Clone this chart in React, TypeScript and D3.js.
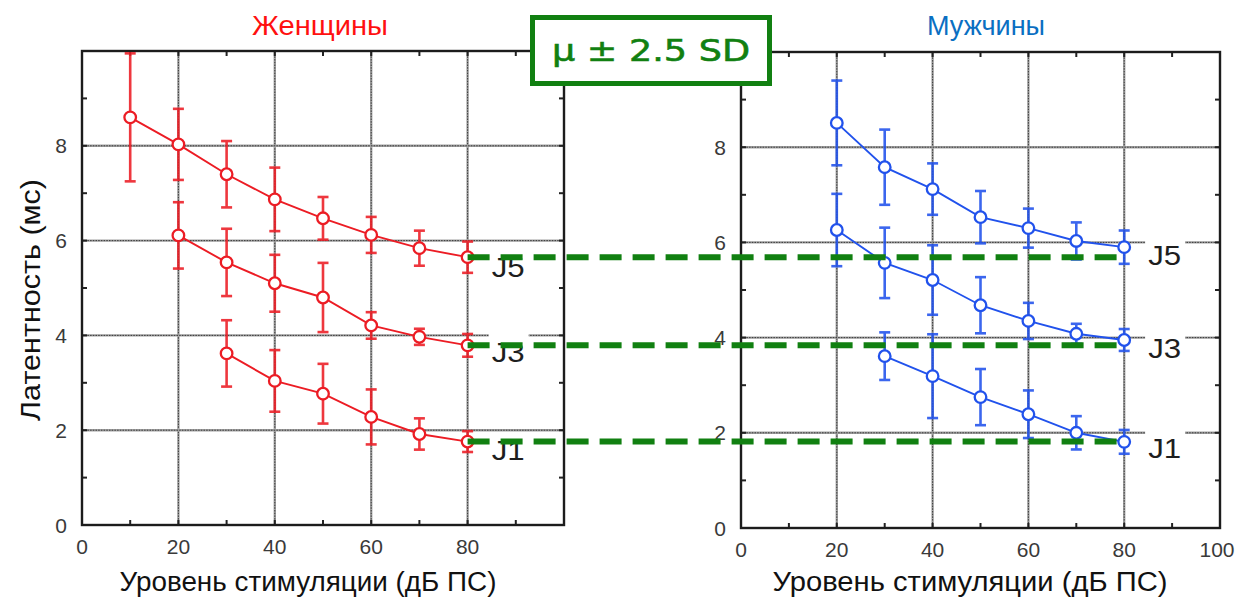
import React from "react";
import * as d3 from "d3";

// Stimulation levels (dB) and latencies (ms) for waves J1, J3, J5
const femaleJ5Levels = [10, 20, 30, 40, 50, 60, 70, 80];
const femaleJ5Mean = [8.6, 8.03, 7.4, 6.87, 6.47, 6.12, 5.84, 5.65];
const femaleJ5Err = [1.35, 0.75, 0.7, 0.67, 0.45, 0.38, 0.37, 0.33];

const femaleJ3Levels = [20, 30, 40, 50, 60, 70, 80];
const femaleJ3Mean = [6.11, 5.54, 5.1, 4.8, 4.21, 3.97, 3.79];
const femaleJ3Err = [0.7, 0.71, 0.6, 0.73, 0.28, 0.17, 0.24];

const femaleJ1Levels = [30, 40, 50, 60, 70, 80];
const femaleJ1Mean = [3.62, 3.04, 2.77, 2.28, 1.92, 1.76];
const femaleJ1Err = [0.7, 0.65, 0.63, 0.58, 0.33, 0.22];

const maleJ5Levels = [20, 30, 40, 50, 60, 70, 80];
const maleJ5Mean = [8.51, 7.58, 7.12, 6.53, 6.3, 6.03, 5.9];
const maleJ5Err = [0.89, 0.79, 0.54, 0.55, 0.41, 0.39, 0.35];

const maleJ3Levels = [20, 30, 40, 50, 60, 70, 80];
const maleJ3Mean = [6.26, 5.57, 5.21, 4.68, 4.35, 4.08, 3.95];
const maleJ3Err = [0.76, 0.74, 0.73, 0.59, 0.38, 0.21, 0.23];

const maleJ1Levels = [30, 40, 50, 60, 70, 80];
const maleJ1Mean = [3.61, 3.19, 2.75, 2.39, 2.0, 1.81];
const maleJ1Err = [0.5, 0.88, 0.59, 0.5, 0.35, 0.25];

const waveNames = ["J5", "J3", "J1"];
const femaleLabelY = [5.23, 3.44, 1.37];
const maleLabelY = [5.53, 3.57, 1.47];
const labelLevel = 85;

const xTicksFemale = [0, 20, 40, 60, 80];
const xTicksMale = [0, 20, 40, 60, 80, 100];
const yTicks = [0, 2, 4, 6, 8];
const majorX = [20, 40, 60, 80];
const majorY = [2, 4, 6, 8];
const minorX = [10, 30, 50, 70, 90];
const minorY = [1, 3, 5, 7, 9];

const titleFemale = "Женщины";
const titleMale = "Мужчины";
const xTitle = "Уровень стимуляции (дБ ПС)";
const yTitle = "Латентность (мс)";
const boxText = "μ ± 2.5 SD";

const RED = "#ec1c24";
const BLUE = "#2152ec";
const GREEN = "#118011";
const FONT = "'Liberation Sans', Arial, sans-serif";

type Series = { levels: number[]; mean: number[]; err: number[] };

const femaleSeries: Series[] = [
  { levels: femaleJ5Levels, mean: femaleJ5Mean, err: femaleJ5Err },
  { levels: femaleJ3Levels, mean: femaleJ3Mean, err: femaleJ3Err },
  { levels: femaleJ1Levels, mean: femaleJ1Mean, err: femaleJ1Err },
];
const maleSeries: Series[] = [
  { levels: maleJ5Levels, mean: maleJ5Mean, err: maleJ5Err },
  { levels: maleJ3Levels, mean: maleJ3Mean, err: maleJ3Err },
  { levels: maleJ1Levels, mean: maleJ1Mean, err: maleJ1Err },
];

const femaleX = d3.scaleLinear().domain([0, 100]).range([82, 564]);
const femaleY = d3.scaleLinear().domain([0, 10]).range([525, 51]);
const maleX = d3.scaleLinear().domain([0, 100]).range([741, 1220]);
const maleY = d3.scaleLinear().domain([0, 10]).range([528, 52]);

type PanelProps = {
  x: d3.ScaleLinear<number, number>;
  y: d3.ScaleLinear<number, number>;
  xTicks: number[];
  labelY: number[];
};

function PanelBackground({ x, y, xTicks, labelY }: PanelProps) {
  const [xa, xb] = x.range();
  const [yb, ya] = y.range();
  const tick = 5;
  return (
    <g>
      {/* grid */}
      {majorX.map((v) => (
        <g key={"gx" + v}>
          <line x1={x(v)} x2={x(v)} y1={ya} y2={yb} stroke="#a2a2a2" strokeWidth={2.4} />
          <line x1={x(v)} x2={x(v)} y1={ya} y2={yb} stroke="#3a3a3a" strokeWidth={1} strokeDasharray="1.5 1.2" />
        </g>
      ))}
      {majorY.map((v) => (
        <g key={"gy" + v}>
          <line x1={xa} x2={xb} y1={y(v)} y2={y(v)} stroke="#a2a2a2" strokeWidth={2.4} />
          <line x1={xa} x2={xb} y1={y(v)} y2={y(v)} stroke="#3a3a3a" strokeWidth={1} strokeDasharray="1.5 1.2" />
        </g>
      ))}
      {/* wave labels on a white ground */}
      {waveNames.map((name, i) => {
        const lx = x(labelLevel);
        const ly = y(labelY[i]);
        return (
          <g key={name}>
            <rect x={lx - 3} y={ly - 28} width={40} height={34} fill="#ffffff" />
            <text x={lx} y={ly} fontFamily={FONT} fontSize={27} fill="#1e1e1e" textLength={33} lengthAdjust="spacingAndGlyphs">
              {name}
            </text>
          </g>
        );
      })}
      {/* ticks */}
      {[...majorX, ...minorX].map((v) => (
        <g key={"tx" + v}>
          <line x1={x(v)} x2={x(v)} y1={yb} y2={yb - tick} stroke="#222" strokeWidth={2} />
          <line x1={x(v)} x2={x(v)} y1={ya} y2={ya + tick} stroke="#222" strokeWidth={2} />
        </g>
      ))}
      {[...majorY, ...minorY].map((v) => (
        <g key={"ty" + v}>
          <line x1={xa} x2={xa + tick} y1={y(v)} y2={y(v)} stroke="#222" strokeWidth={2} />
          <line x1={xb} x2={xb - tick} y1={y(v)} y2={y(v)} stroke="#222" strokeWidth={2} />
        </g>
      ))}
      {/* frame */}
      <rect x={xa} y={ya} width={xb - xa} height={yb - ya} fill="none" stroke="#1c1c1c" strokeWidth={2.4} />
      {/* tick labels */}
      {xTicks.map((v) => (
        <text
          key={"lx" + v}
          x={Math.min(x(v), 1217)}
          y={yb + 29}
          textAnchor="middle"
          fontFamily={FONT}
          fontSize={21}
          fill="#3a3a3a"
        >
          {v}
        </text>
      ))}
      {yTicks.map((v) => (
        <text key={"ly" + v} x={xa - 15} y={y(v) + 7.5} textAnchor="end" fontFamily={FONT} fontSize={21} fill="#3a3a3a">
          {v}
        </text>
      ))}
    </g>
  );
}

function SeriesMarks({ x, y, series, color }: { x: PanelProps["x"]; y: PanelProps["y"]; series: Series[]; color: string }) {
  return (
    <g>
      {series.map((s, si) => {
        const pts = s.levels.map((lv, i) => [x(lv), y(s.mean[i])] as [number, number]);
        const path = d3.line()(pts) || "";
        return (
          <g key={si}>
            {s.levels.map((lv, i) => {
              const cx = x(lv);
              const top = y(s.mean[i] + s.err[i]);
              const bot = y(s.mean[i] - s.err[i]);
              return (
                <g key={"e" + i} stroke={color} strokeWidth={2.6} opacity={0.88}>
                  <line x1={cx} x2={cx} y1={top} y2={bot} />
                  <line x1={cx - 5.5} x2={cx + 5.5} y1={top} y2={top} />
                  <line x1={cx - 5.5} x2={cx + 5.5} y1={bot} y2={bot} />
                </g>
              );
            })}
            <path d={path} fill="none" stroke={color} strokeWidth={1.9} />
            {pts.map(([cx, cy], i) => (
              <circle key={"c" + i} cx={cx} cy={cy} r={5.8} fill="#ffffff" stroke={color} strokeWidth={2.3} />
            ))}
          </g>
        );
      })}
    </g>
  );
}

export default function App() {
  const refLevels = femaleSeries.map((s) => s.mean[s.mean.length - 1]);
  return (
    <svg
      width={1236}
      height={598}
      viewBox="0 0 1236 598"
      style={{ position: "absolute", left: 0, top: 0, background: "#ffffff" }}
    >
      <rect x={0} y={0} width={1236} height={598} fill="#ffffff" />

      <PanelBackground x={femaleX} y={femaleY} xTicks={xTicksFemale} labelY={femaleLabelY} />
      <PanelBackground x={maleX} y={maleY} xTicks={xTicksMale} labelY={maleLabelY} />

      <SeriesMarks x={femaleX} y={femaleY} series={femaleSeries} color={RED} />
      <SeriesMarks x={maleX} y={maleY} series={maleSeries} color={BLUE} />

      {/* reference lines at the female 80 dB latencies */}
      {refLevels.map((v, i) => (
        <line
          key={"ref" + i}
          x1={femaleX(80)}
          x2={maleX(80)}
          y1={femaleY(v)}
          y2={femaleY(v)}
          stroke={GREEN}
          strokeWidth={6}
          strokeDasharray="22 11"
        />
      ))}

      {/* titles */}
      <text x={320} y={35} textAnchor="middle" fontFamily={FONT} fontSize={27} fill="#ff1010" textLength={136} lengthAdjust="spacingAndGlyphs">
        {titleFemale}
      </text>
      <text x={986} y={35} textAnchor="middle" fontFamily={FONT} fontSize={27} fill="#0a6fc2" textLength={118} lengthAdjust="spacingAndGlyphs">
        {titleMale}
      </text>

      {/* axis titles */}
      <text x={308} y={591} textAnchor="middle" fontFamily={FONT} fontSize={27} fill="#111" textLength={377} lengthAdjust="spacingAndGlyphs">
        {xTitle}
      </text>
      <text x={970} y={591} textAnchor="middle" fontFamily={FONT} fontSize={27} fill="#111" textLength={395} lengthAdjust="spacingAndGlyphs">
        {xTitle}
      </text>
      <text
        transform="translate(40,300) rotate(-90)"
        textAnchor="middle"
        fontFamily={FONT}
        fontSize={27}
        fill="#111"
        textLength={242}
        lengthAdjust="spacingAndGlyphs"
      >
        {yTitle}
      </text>

      {/* legend box */}
      <rect x={532.5} y={17.5} width={237} height={66} fill="#ffffff" stroke={GREEN} strokeWidth={5} />
      <text
        x={651}
        y={61}
        textAnchor="middle"
        fontFamily="'DejaVu Sans', Verdana, sans-serif"
        fontSize={30}
        fill={GREEN}
        stroke={GREEN}
        strokeWidth={0.6}
        textLength={198}
        lengthAdjust="spacingAndGlyphs"
      >
        {boxText}
      </text>
    </svg>
  );
}
